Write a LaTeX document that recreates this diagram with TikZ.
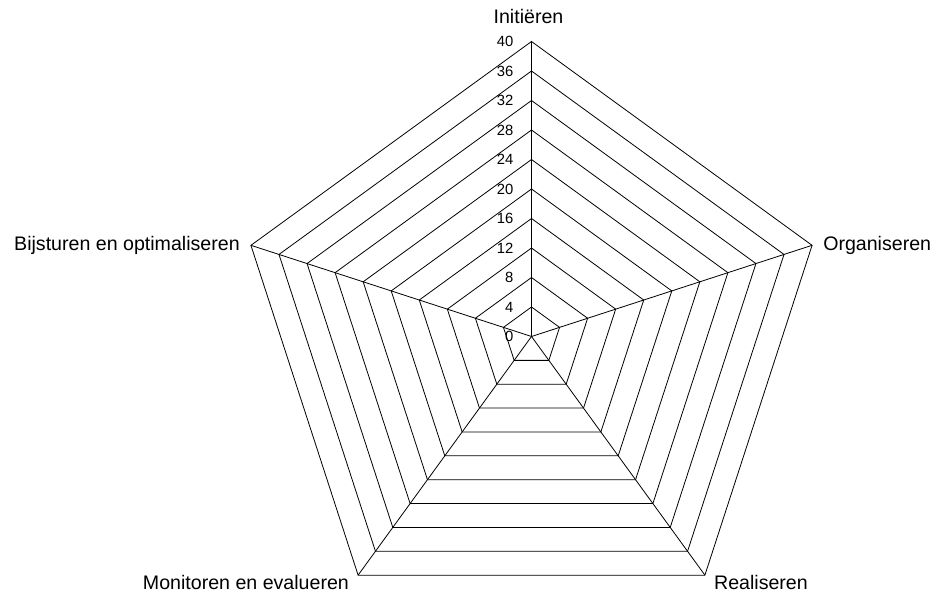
\documentclass[tikz,border=0pt]{standalone}
\usepackage{fontspec}
\setmainfont{Liberation Sans}
\usepackage{xcolor}
\usepackage{tikz}
\usetikzlibrary{calc}
\definecolor{radargrid}{RGB}{0,0,0}

\begin{document}
\begin{tikzpicture}[x=1pt, y=1pt,
  gridline/.style={draw=radargrid, line width=0.8pt},
  axislabel/.style={font=\fontsize{19.6}{22}\selectfont, inner sep=0pt},
  ticklabel/.style={font=\fontsize{14.8}{16}\selectfont, anchor=east, inner sep=0pt}]
\useasboundingbox (0,0) rectangle (938,593);
% Centre and axis ends
\coordinate (c) at (531.5,256.5);
\foreach \k in {0,...,4}
  \coordinate (v\k) at ($(c)+(90-72*\k:295)$);
% Rings
\foreach \r in {1,...,10}
  \draw[gridline] ($(c)!\r/10!(v0)$) -- ($(c)!\r/10!(v1)$) -- ($(c)!\r/10!(v2)$)
    -- ($(c)!\r/10!(v3)$) -- ($(c)!\r/10!(v4)$) -- cycle;
% Spokes
\foreach \k in {0,...,4}
  \draw[gridline] (c) -- (v\k);
% Scale
\foreach \r [evaluate=\r as \val using int(4*\r)] in {0,...,10}
  \node[ticklabel] (t\r) at ($(c)!\r/10!(v0)+(-18,0)$) {\val};
% Axis labels
\node[axislabel, anchor=south] (initieren) at ($(v0)+(-3,18)$) {Initiëren};
\node[axislabel, anchor=west] (organiseren) at ($(v1)+(11,0)$) {Organiseren};
\node[axislabel, anchor=north west] (realiseren) at ($(v2)+(9,0)$) {Realiseren};
\node[axislabel, anchor=north east] (monitoren) at ($(v3)+(-9,0)$) {Monitoren en evalueren};
\node[axislabel, anchor=east] (bijsturen) at ($(v4)+(-11,0)$) {Bijsturen en optimaliseren};
\end{tikzpicture}
\end{document}
